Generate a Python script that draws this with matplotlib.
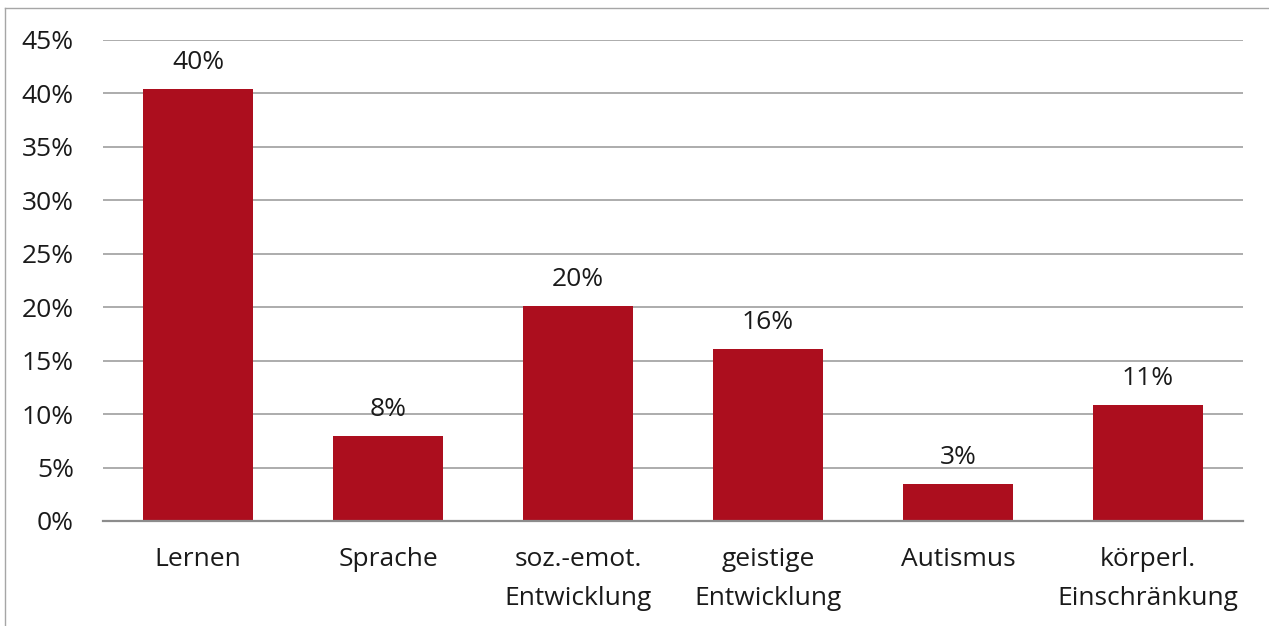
import matplotlib
matplotlib.use("Agg")
import matplotlib.pyplot as plt

categories = ["Lernen", "Sprache", "soz.-emot.\nEntwicklung", "geistige\nEntwicklung", "Autismus", "körperl.\nEinschränkung"]
values = [40.4, 7.95, 20.1, 16.1, 3.45, 10.85]
labels = ["40%", "8%", "20%", "16%", "3%", "11%"]
yticks = [0, 5, 10, 15, 20, 25, 30, 35, 40, 45]

plt.rcParams['font.family'] = ['Open Sans', 'DejaVu Sans']

fig = plt.figure(figsize=(12.69, 6.26), dpi=100)
ax = fig.add_axes([103/1269, 1 - 521/626, (1243-103)/1269, (521-40)/626])

x = list(range(len(categories)))
ax.bar(x, values, width=0.575, color="#AC0E1E", zorder=3)
for xi, v, lab in zip(x, values, labels):
    ax.text(xi, v + 1.3, lab, ha="center", va="bottom", fontsize=19, color="#1a1a1a")

ax.set_xlim(-0.5, len(categories) - 0.5)
ax.set_ylim(0, 45)
ax.set_yticks(yticks)
ax.set_yticklabels([f"{t}%" for t in yticks], fontsize=19, color="#1a1a1a")
ax.set_xticks(x)
ax.set_xticklabels(categories, fontsize=19, color="#1a1a1a", linespacing=1.72)
ax.tick_params(axis="both", length=0)
ax.tick_params(axis="y", pad=21)
ax.tick_params(axis="x", pad=19)
ax.yaxis.grid(True, color="#A6A6A6", linewidth=1.3, zorder=0)
for s in ["top", "right", "left"]:
    ax.spines[s].set_visible(False)
ax.spines["bottom"].set_color("#8C8C8C")
ax.spines["bottom"].set_linewidth(1.6)
ax.spines["bottom"].set_zorder(4)

# outer chart border
fig.add_artist(plt.Line2D([5/1269, 1.0], [1 - 8/626, 1 - 8/626], color="#A6A6A6", linewidth=1.0, transform=fig.transFigure))
fig.add_artist(plt.Line2D([5/1269, 5/1269], [0, 1 - 8/626], color="#A6A6A6", linewidth=1.0, transform=fig.transFigure))

fig.savefig("out.png", dpi=100)
